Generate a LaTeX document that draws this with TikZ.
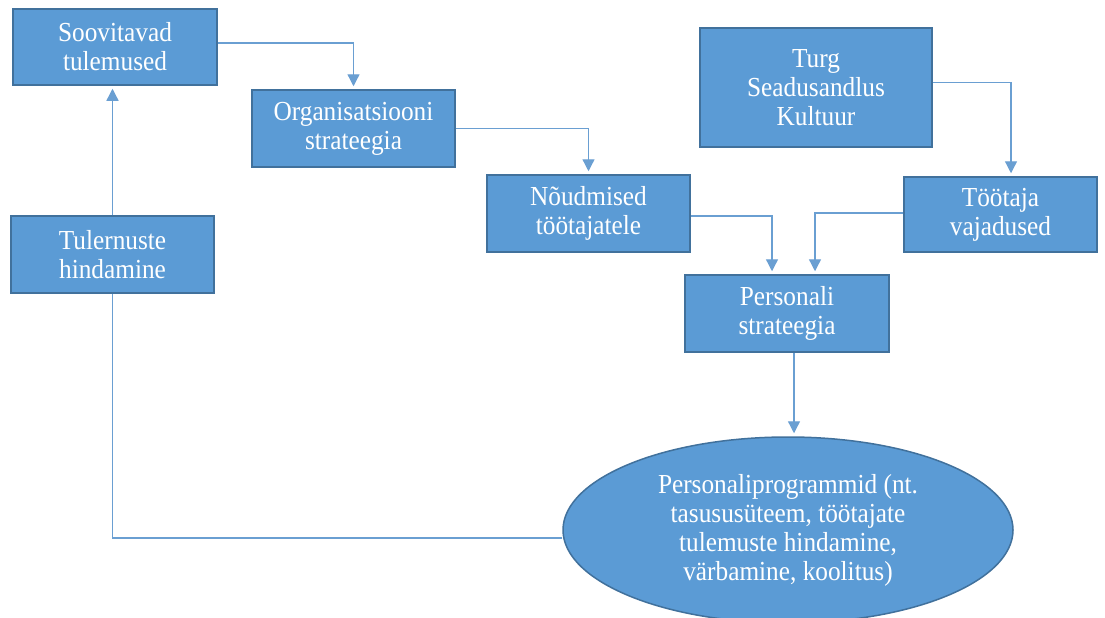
\documentclass[tikz,border=0pt]{standalone}
\usepackage{fontspec}
\setmainfont[FakeStretch=0.92]{Liberation Serif}
\usetikzlibrary{arrows.meta,shapes.geometric}
\definecolor{boxfill}{HTML}{5B9BD5}
\definecolor{boxline}{HTML}{41719C}
\definecolor{arrcol}{HTML}{6A9FD2}
\begin{document}
\begin{tikzpicture}[x=1pt,y=-1pt,
  box/.style={draw=boxline, line width=1.5pt, fill=boxfill, text=white, align=center, inner sep=0pt,
    font=\fontsize{27.5}{29}\selectfont},
  link/.style={draw=arrcol, line width=1.3pt},
  conn/.style={link, -{Triangle[width=12pt,length=12pt]}, shorten >=3pt}]
\useasboundingbox (0,0) rectangle (1105,618);
\fill[white] (0,0) rectangle (1105,618);

\node[box, minimum width=204pt, minimum height=76pt] (soov) at (115,47) {Soovitavad\\tulemused};
\node[box, minimum width=203pt, minimum height=77pt] (org) at (353.5,128.5) {Organisatsiooni\\strateegia};
\node[box, minimum width=203pt, minimum height=77pt] (nou) at (588.5,213.5) {Nõudmised\\töötajatele};
\node[box, minimum width=232pt, minimum height=119pt] (turg) at (816,87.5) {Turg\\Seadusandlus\\Kultuur};
\node[box, minimum width=193pt, minimum height=75pt] (too) at (1000.5,214.5) {Töötaja\\vajadused};
\node[box, minimum width=204pt, minimum height=77pt] (pers) at (787,313.5) {Personali\\strateegia};
\node[box, minimum width=203pt, minimum height=77pt] (tul) at (112.5,254.5) {Tulernuste\\hindamine};
\node[box, ellipse, minimum width=450pt, minimum height=186pt] (ell) at (788,530)
  {Personaliprogrammid (nt.\\tasususüteem, töötajate\\tulemuste hindamine,\\värbamine, koolitus)};

\draw[conn] ([yshift=4pt]soov.east) -| (org.north);
\draw[conn] (org.east) -| (nou.north);
\draw[conn] ([yshift=5pt]turg.east) -| ([xshift=10.5pt]too.north);
\draw[conn] ([yshift=-2.5pt]nou.east) -| ([xshift=-15pt]pers.north);
\draw[conn] ([yshift=1.5pt]too.west) -| ([xshift=28pt]pers.north);
\draw[conn] ([xshift=7pt]pers.south) -- ([xshift=7pt]pers.south |- ell.north);
\draw[link] ([yshift=-8pt]ell.west) -| (tul.south);
\draw[conn] (tul.north) -- (tul.north |- soov.south);
\end{tikzpicture}
\end{document}
